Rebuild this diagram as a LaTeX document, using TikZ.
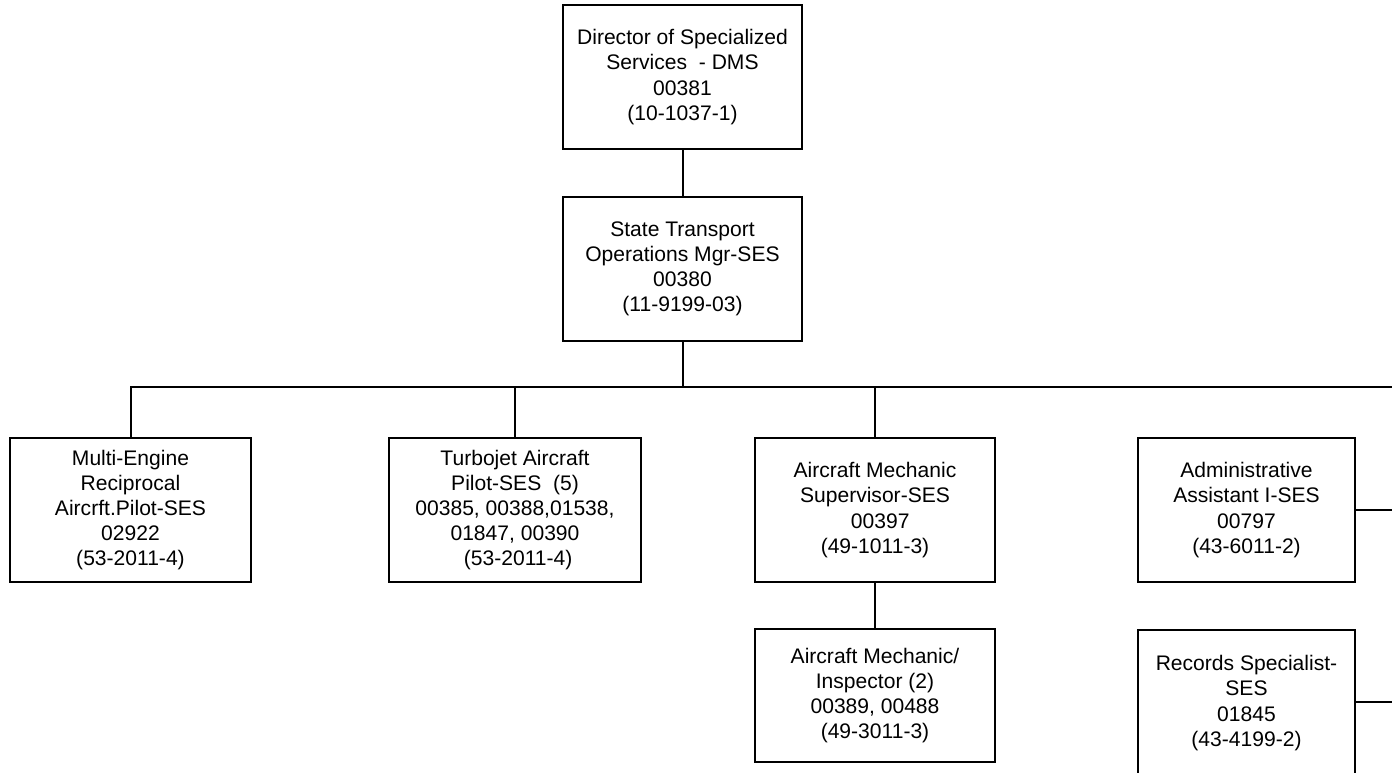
\documentclass[tikz,border=0pt]{standalone}
\usepackage{fontspec}
\setmainfont{Liberation Sans}
\begin{document}
\begin{tikzpicture}[x=0.75pt,y=-0.75pt,
  orgbox/.style={draw=black,line width=1.5pt,fill=white,align=center,
    inner sep=0pt,font=\fontsize{15.8pt}{18.9pt}\selectfont},
  link/.style={draw=black,line width=1.5pt}]
\useasboundingbox (0,0) rectangle (1392,773);
\clip (0,0) rectangle (1392,773);

% top of the hierarchy
\node[orgbox,minimum width=179.25pt,minimum height=108pt] (dir) at (682.5,77)
  {Director of Specialized\\Services \ - DMS\\00381\\(10-1037-1)};
\node[orgbox,minimum width=179.25pt,minimum height=108pt] (sto) at (682.5,269)
  {State Transport\\Operations Mgr-SES\\00380\\(11-9199-03)};

% direct reports
\node[orgbox,minimum width=180.75pt,minimum height=108pt] (mep) at (130.5,510)
  {Multi-Engine\\Reciprocal\\Aircrft.Pilot-SES\\02922\\(53-2011-4)};
\node[orgbox,minimum width=189pt,minimum height=108pt] (tjp) at (515,510)
  {Turbojet Aircraft\\Pilot-SES \ (5)\\00385, 00388,01538,\\01847, 00390\\\hspace*{0.3em}(53-2011-4)};
\node[orgbox,minimum width=180pt,minimum height=108pt] (ams) at (875,510)
  {Aircraft Mechanic\\Supervisor-SES\\\hspace*{0.5em}00397\\(49-1011-3)};
\node[orgbox,minimum width=162.75pt,minimum height=108pt] (adm) at (1246.5,510)
  {Administrative\\Assistant I-SES\\00797\\(43-6011-2)};

% second level
\node[orgbox,minimum width=180pt,minimum height=99.75pt] (ami) at (875,695.5)
  {Aircraft Mechanic/\\Inspector (2)\\00389, 00488\\(49-3011-3)};
\node[orgbox,minimum width=162.75pt,minimum height=109.5pt] (rec) at (1246.5,703)
  {Records Specialist-\\SES\\01845\\(43-4199-2)};

% connector ends beyond the right margin
\coordinate (busR) at (1400,387);
\coordinate (admR) at (1400,510);
\coordinate (recR) at (1400,702);

% connectors
\draw[link] (dir.south) -- (sto.north);
\draw[link] (sto.south) -- (682.5,387);
\draw[link] (mep.north) |- (busR);
\draw[link] (tjp.north) -- (tjp.north |- busR);
\draw[link] (ams.north) -- (ams.north |- busR);
\draw[link] (ams.south) -- (ami.north);
\draw[link] (adm.east |- admR) -- (admR);
\draw[link] (rec.east |- recR) -- (recR);
\end{tikzpicture}
\end{document}
